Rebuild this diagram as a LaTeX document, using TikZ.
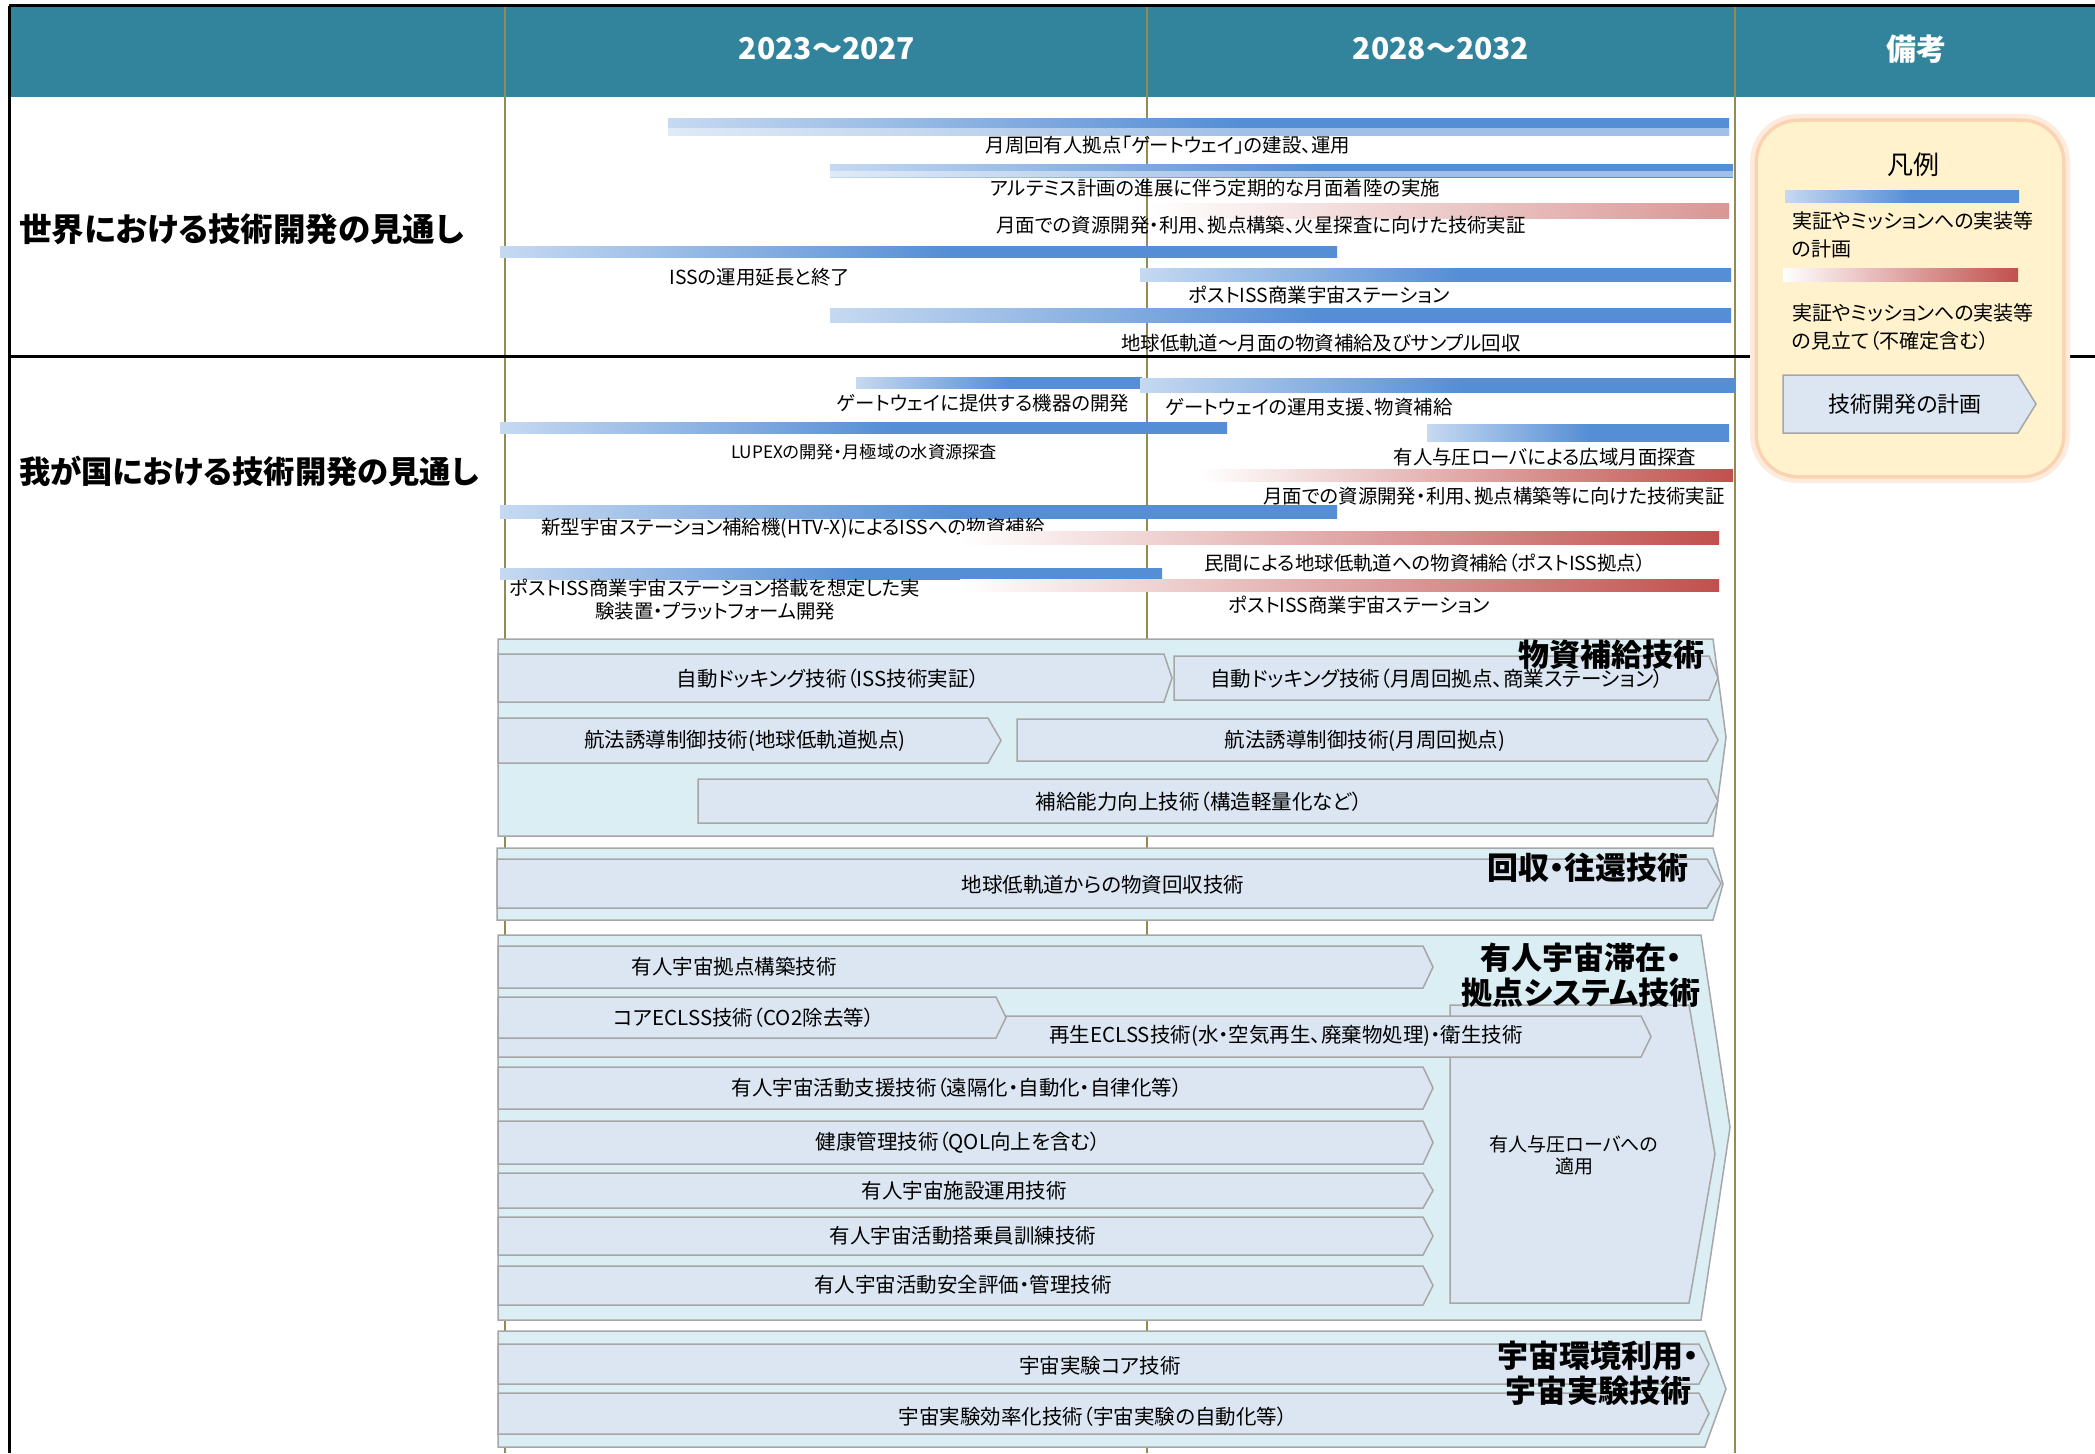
\documentclass[tikz,border=0pt]{standalone}
\usepackage{fontspec}
\setmainfont{Noto Sans CJK JP}[RawFeature=+palt]
\usepackage{tikz}
\usetikzlibrary{calc}
\usetikzlibrary{positioning}

\definecolor{hdteal}{HTML}{31849B}
\definecolor{divolive}{HTML}{948A54}
\definecolor{barlight}{HTML}{C6D9F1}
\definecolor{barblue}{HTML}{558ED5}
\definecolor{barred}{HTML}{C0504D}
\definecolor{barpink}{HTML}{D99694}
\definecolor{techfill}{HTML}{DCE6F2}
\definecolor{grpfill}{HTML}{DBEEF3}
\definecolor{boxline}{HTML}{A6A6A6}
\definecolor{legfill}{HTML}{FFF2CC}
\definecolor{legglow}{HTML}{FAC090}

\pgfdeclarehorizontalshading{planbar}{100bp}{color(0bp)=(barlight); color(25bp)=(barlight); color(52bp)=(barblue); color(100bp)=(barblue)}
\pgfdeclarehorizontalshading{riskbar}{100bp}{color(0bp)=(white); color(25bp)=(white); color(75bp)=(barred); color(100bp)=(barred)}
\pgfdeclarehorizontalshading{riskpale}{100bp}{color(0bp)=(white); color(25bp)=(white); color(75bp)=(barpink); color(100bp)=(barpink)}

% chevron box: x1, y1, x2, y2, tip
\newcommand\chev[6][techbox]{\draw[#1] (#2,#3) -- (#4,#3) -- (#6,{(#3+#5)/2}) -- (#4,#5) -- (#2,#5) -- cycle;}

\begin{document}
\begin{tikzpicture}[x=1pt, y=-1pt,
	techbox/.style={draw=boxline, line width=1.5pt, fill=techfill},
	grpbox/.style={draw=boxline, line width=1.5pt, fill=grpfill},
	divline/.style={draw=divolive, line width=2pt},
	frame/.style={draw=black, line width=3pt},
	hdtext/.style={text=white, font=\bfseries\fontsize{30}{34}\selectfont, inner sep=0pt},
	sidetext/.style={font=\bfseries\fontsize{32.5}{36}\selectfont, inner sep=0pt, anchor=west},
	bartext/.style={font=\fontsize{19.4}{23}\selectfont, inner sep=0pt, align=center},
	boxtext/.style={font=\fontsize{20.5}{22}\selectfont, inner sep=0pt, align=center},
	grptitle/.style={font=\bfseries\fontsize{31}{35}\selectfont, inner sep=0pt, align=center},
	legtext/.style={font=\fontsize{20}{28}\selectfont, inner sep=0pt, align=left, anchor=north west}]
\useasboundingbox (0,0) rectangle (2095,1453);
\fill[white] (0,0) rectangle (2095,1453);

\fill[hdteal] (9,6) rectangle (2095,97);
\foreach \x in {505,1147,1735}
	\draw[divline] (\x,6) -- (\x,1453);
\draw[frame] (9,6) -- (2095,6);
\draw[frame] (9,6) -- (9,1453);
\draw[frame] (9,356) -- (2095,356);

\node[hdtext] (span a) at (827,49) {2023～2027};
\node[hdtext] (span b) at (1441,49) {2028～2032};
\node[hdtext] (remarks) at (1916,49) {備考};

\node[sidetext] (world) at (19,229) {世界における技術開発の見通し};
\node[sidetext, font=\bfseries\fontsize{31.3}{36}\selectfont] (japan) at (19,471) {我が国における技術開発の見通し};

% world outlook
\shade[shading=planbar] (668,119) rectangle (1729,136);
\fill[white, opacity=.45] (668,128) rectangle (1729,136);
\node[bartext] (gateway) at (1168,145) {月周回有人拠点「ゲートウェイ」の建設、運用};
\shade[shading=planbar] (830,164) rectangle (1733,177);
\fill[white, opacity=.45] (830,171) rectangle (1733,177);
\node[bartext] (artemis) at (1215,188) {アルテミス計画の進展に伴う定期的な月面着陸の実施};
\shade[shading=riskpale] (1150,203) rectangle (1729,218);
\node[bartext] (mars) at (1261,225) {月面での資源開発・利用、拠点構築、火星探査に向けた技術実証};
\shade[shading=planbar] (500,246) rectangle (1337,257);
\node[bartext] (iss end) at (760,277) {ISSの運用延長と終了};
\shade[shading=planbar] (1140,268) rectangle (1731,281);
\node[bartext] (post iss) at (1319,295) {ポストISS商業宇宙ステーション};
\shade[shading=planbar] (830,308) rectangle (1731,322);
\node[bartext] (sample) at (1321,343) {地球低軌道～月面の物資補給及びサンプル回収};

% japan outlook
\shade[shading=planbar] (856,377) rectangle (1142,388);
\node[bartext] (gw device) at (983,403) {ゲートウェイに提供する機器の開発};
\shade[shading=planbar] (1140,378) rectangle (1735,392);
\node[bartext] (gw ops) at (1309,407) {ゲートウェイの運用支援、物資補給};
\shade[shading=planbar] (500,422) rectangle (1227,433);
\node[bartext, font=\fontsize{17.2}{20}\selectfont] (lupex) at (864,452) {LUPEXの開発・月極域の水資源探査};
\shade[shading=planbar] (1427,424) rectangle (1729,441);
\node[bartext] (rover) at (1545,457) {有人与圧ローバによる広域月面探査};
\shade[shading=riskbar] (1200,469) rectangle (1733,481);
\node[bartext] (lunar res) at (1494,496) {月面での資源開発・利用、拠点構築等に向けた技術実証};
\shade[shading=planbar] (500,505) rectangle (1337,518);
\node[bartext] (htvx) at (793,528) {新型宇宙ステーション補給機(HTV-X)によるISSへの物資補給};
\shade[shading=riskbar] (960,531) rectangle (1719,544);
\node[bartext] (private) at (1425,563) {民間による地球低軌道への物資補給（ポストISS拠点）};
\shade[shading=planbar] (500,568) rectangle (1162,579);
\node[bartext] (payload) at (715,600) {ポストISS商業宇宙ステーション搭載を想定した実\\験装置・プラットフォーム開発};
\shade[shading=riskbar] (960,579) rectangle (1719,591);
\node[bartext] (post iss jp) at (1359,605) {ポストISS商業宇宙ステーション};

% resupply
\chev[grpbox]{498}{639}{1713}{836}{1726}
\chev{498}{654}{1164}{702}{1172}
\node[boxtext] (dock iss) at (828,679) {自動ドッキング技術（ISS技術実証）};
\chev{1174}{656}{1709}{700}{1718}
\node[boxtext] (dock moon) at (1437,679) {自動ドッキング技術（月周回拠点、商業ステーション）};
\chev{498}{718}{988}{763}{1001}
\node[boxtext] (gnc leo) at (745,741) {航法誘導制御技術(地球低軌道拠点)};
\chev{1017}{719}{1707}{761}{1718}
\node[boxtext] (gnc moon) at (1365,741) {航法誘導制御技術(月周回拠点)};
\chev{698}{779}{1707}{823}{1718}
\node[boxtext] (capacity) at (1199,802) {補給能力向上技術（構造軽量化など）};
\node[grptitle, anchor=east] (resupply) at (1705,655) {物資補給技術};

% return
\chev[grpbox]{497}{848}{1713}{920}{1723}
\chev{497}{859}{1707}{908}{1721}
\node[boxtext] (recovery) at (1103,885) {地球低軌道からの物資回収技術};
\node[grptitle, anchor=east] (return) at (1689,868) {回収・往還技術};

% habitation
\chev[grpbox]{498}{935}{1701}{1320}{1730}
\chev{1450}{1005}{1689}{1303}{1715}
\node[boxtext, font=\fontsize{19}{22}\selectfont] (rover use) at (1574,1155) {有人与圧ローバへの\\適用};
\chev{498}{946}{1423}{988}{1433}
\node[boxtext] (base) at (734,967) {有人宇宙拠点構築技術};
\chev{498}{1016}{1641}{1057}{1651}
\node[boxtext] (regen) at (1286,1036) {再生ECLSS技術(水・空気再生、廃棄物処理)・衛生技術};
\chev{498}{997}{996}{1038}{1006}
\node[boxtext] (core eclss) at (744,1018) {コアECLSS技術（CO2除去等）};
\chev{498}{1067}{1423}{1109}{1433}
\node[boxtext] (support) at (957,1088) {有人宇宙活動支援技術（遠隔化・自動化・自律化等）};
\chev{498}{1121}{1423}{1164}{1433}
\node[boxtext] (health) at (958,1143) {健康管理技術（QOL向上を含む）};
\chev{498}{1173}{1423}{1208}{1433}
\node[boxtext] (ops) at (964,1191) {有人宇宙施設運用技術};
\chev{498}{1217}{1423}{1255}{1433}
\node[boxtext] (crew) at (963,1236) {有人宇宙活動搭乗員訓練技術};
\chev{498}{1266}{1423}{1305}{1433}
\node[boxtext] (safety) at (963,1285) {有人宇宙活動安全評価・管理技術};
\node[grptitle] (habitation) at (1581,975) {有人宇宙滞在・\\拠点システム技術};

% experiments
\chev[grpbox]{498}{1331}{1705}{1447}{1726}
\chev{498}{1344}{1699}{1384}{1709}
\node[boxtext] (exp core) at (1100,1366) {宇宙実験コア技術};
\chev{498}{1393}{1699}{1434}{1709}
\node[boxtext] (exp auto) at (1093,1417) {宇宙実験効率化技術（宇宙実験の自動化等）};
\node[grptitle] (experiment) at (1598,1373) {宇宙環境利用・\\宇宙実験技術};

% legend
\draw[legglow!30, line width=16pt, rounded corners=40pt] (1758,122) rectangle (2062,475);
\draw[legglow!70, line width=7pt, rounded corners=40pt] (1758,122) rectangle (2062,475);
\fill[legfill, rounded corners=40pt] (1758,122) rectangle (2062,475);
\node[font=\fontsize{26}{30}\selectfont, inner sep=0pt] (legend) at (1913,165) {凡例};
\shade[shading=planbar] (1785,190) rectangle (2019,202);
\node[legtext] (plan) at (1792,211) {実証やミッションへの実装等\\の計画};
\shade[shading=riskbar] (1783,268) rectangle (2018,281);
\node[legtext] (outlook) at (1792,303) {実証やミッションへの実装等\\の見立て（不確定含む）};
\chev{1783}{375}{2018}{433}{2036}
\node[boxtext, font=\fontsize{22}{24}\selectfont] (dev plan) at (1905,404) {技術開発の計画};
\end{tikzpicture}
\end{document}
